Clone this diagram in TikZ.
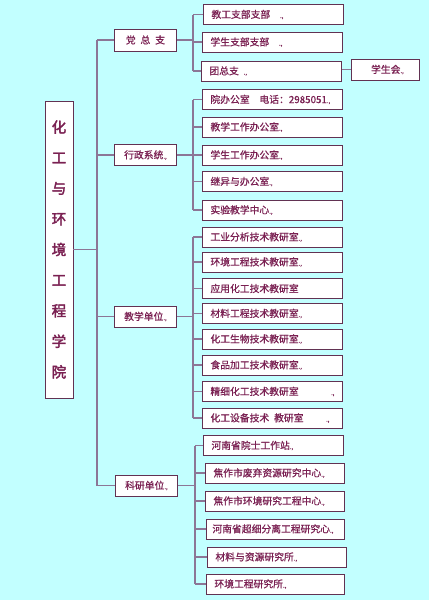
\documentclass[tikz,border=0pt]{standalone}
\usepackage{fontspec}
\newfontfamily\cjk{Noto Sans CJK SC}[FakeBold=0.8]
\newfontfamily\cjkb{Noto Sans CJK SC}[FakeBold=2.5]
\definecolor{bgc}{RGB}{194,255,255}
\definecolor{linec}{RGB}{140,118,150}
\definecolor{boxc}{RGB}{98,50,82}
\definecolor{txtc}{RGB}{122,32,82}
\newcommand\mk{{\fontsize{6}{6}\selectfont .,}}
\tikzset{
  conn/.style={draw=linec, line width=1.3pt},
  bx/.style={draw=boxc, fill=white, line width=0.9pt, anchor=west, inner xsep=8pt, inner ysep=0pt,
    minimum height=20pt, text width=#1, align=left, text=txtc,
    font=\cjk\fontsize{9.8}{10}\selectfont},
  lvone/.style={draw=boxc, fill=white, line width=0.9pt, anchor=west, inner sep=0pt,
    minimum height=22pt, minimum width=62pt, align=center, text=txtc,
    font=\cjk\fontsize{9.8}{10}\selectfont},
  mainbox/.style={draw=boxc, fill=white, line width=0.9pt, inner sep=0pt,
    minimum height=297pt, minimum width=28pt, align=center, text=txtc,
    font=\cjkb\fontsize{14.5}{30.6}\selectfont}
}
\begin{document}
\begin{tikzpicture}[x=1pt,y=-1pt]
\fill[bgc] (0,0) rectangle (429,600);
\useasboundingbox (0,0) rectangle (429,600);

% main
\node[mainbox] (main) at (59,249.5) {化\\工\\与\\环\\境\\工\\程\\学\\院};

% level one
\node[lvone] (L1) at (114,40) {党\enspace 总\enspace 支};
\node[lvone,minimum height=21pt] (L2) at (114,155) {行政系统\mk};
\node[lvone,minimum height=21pt] (L3) at (114,316.5) {教学单位\mk};
\node[lvone,minimum height=21pt] (L4) at (115,485.5) {科研单位\mk};

% trunk
\coordinate (tr) at (97,0);
\draw[conn] (tr |- L1.west) -- (tr |- L4.west);
\draw[conn] (main.east) -- (main.east -| tr);
\foreach \n in {L1,L2,L3,L4} \draw[conn] (\n.west -| tr) -- (\n.west);

% group 1
\node[bx=124pt] (a1) at (203,14.5) {教工支部支部\quad\mk};
\node[bx=124pt] (a2) at (202,42) {学生支部支部\quad\mk};
\node[bx=124pt] (a3) at (201,71) {团总支\enspace\mk};
\node[lvone,minimum width=68pt,minimum height=21pt] (xs) at (351,69.5) {\hspace*{4pt}学生会\mk};
\coordinate (b1) at (193,0);
\draw[conn] (b1 |- a1.west) -- (b1 |- a3.west);
\draw[conn] (L1.east) -- (L1.east -| b1);
\foreach \n in {a1,a2,a3} \draw[conn] (\n.west -| b1) -- (\n.west);
\draw[conn] (a3.east |- xs.west) -- (xs.west);

% group 2
\node[bx=124pt] (c1) at (202,99.5) {院办公室\quad 电话：2985051\mk};
\node[bx=124pt] (c2) at (202,127) {教学工作办公室\mk};
\node[bx=124pt] (c3) at (202,155) {学生工作办公室\mk};
\node[bx=124pt] (c4) at (202,181.5) {继异与办公室\mk};
\node[bx=124pt] (c5) at (202,210) {实验教学中心\mk};
\coordinate (b2) at (193,0);
\draw[conn] (b2 |- c1.west) -- (b2 |- c5.west);
\draw[conn] (L2.east) -- (L2.east -| b2);
\foreach \n in {c1,c2,c3,c4,c5} \draw[conn] (\n.west -| b2) -- (\n.west);

% group 3
\node[bx=124pt] (d1) at (202,237) {工业分析技术教研室\mk};
\node[bx=124pt] (d2) at (202,262) {环境工程技术教研室\mk};
\node[bx=124pt] (d3) at (202,288.5) {应用化工技术教研室};
\node[bx=124pt] (d4) at (202,313.5) {材料工程技术教研室\mk};
\node[bx=124pt] (d5) at (202,339) {化工生物技术教研室\mk};
\node[bx=124pt] (d6) at (202,365) {食品加工技术教研室\mk};
\node[bx=124pt] (d7) at (202,391.5) {精细化工技术教研室\hfill\mk};
\node[bx=124pt] (d8) at (202,418) {化工设备技术\enspace 教研室\hfill\mk\hspace*{5pt}};
\coordinate (b3) at (193,0);
\draw[conn] (b3 |- d1.west) -- (b3 |- d8.west);
\draw[conn] (L3.east) -- (L3.east -| b3);
\foreach \n in {d1,d2,d3,d4,d5,d6,d7,d8} \draw[conn] (\n.west -| b3) -- (\n.west);

% group 4
\node[bx=124pt] (e1) at (203,445.5) {河南省院士工作站\mk};
\node[bx=123pt] (e2) at (205,473) {焦作市废弃资源研究中心\mk};
\node[bx=123pt] (e3) at (205,501) {焦作市环境研究工程中心\mk};
\node[bx=122pt,inner xsep=6pt,text width=126pt] (e4) at (206,529) {河南省超细分离工程研究心\mk};
\node[bx=123pt] (e5) at (207,557) {材料与资源研究所\mk};
\node[bx=122pt] (e6) at (206,584) {环境工程研究所\mk};
\coordinate (b4) at (195,0);
\draw[conn] (b4 |- e1.west) -- (b4 |- e6.west);
\draw[conn] (L4.east) -- (L4.east -| b4);
\foreach \n in {e1,e2,e3,e4,e5,e6} \draw[conn] (\n.west -| b4) -- (\n.west);
\end{tikzpicture}
\end{document}
